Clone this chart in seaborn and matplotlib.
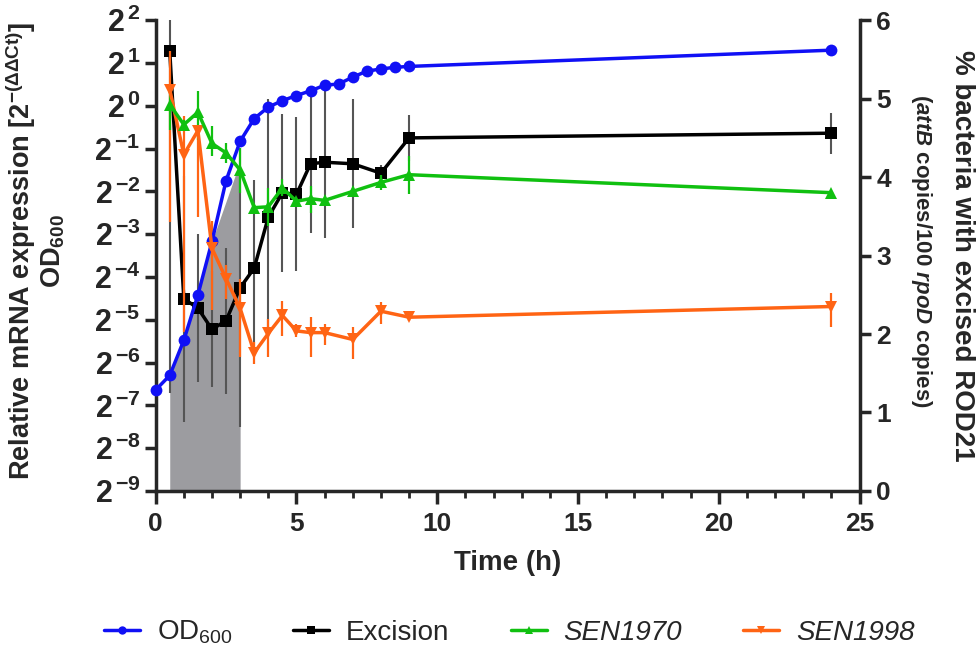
import numpy as np
import pandas as pd
import matplotlib
matplotlib.use('Agg')
import matplotlib.pyplot as plt
from matplotlib.ticker import FuncFormatter, MultipleLocator
from matplotlib.lines import Line2D
import seaborn as sns

# time points (h)
t_od = [0, 0.5, 1, 1.5, 2, 2.5, 3, 3.5, 4, 4.5, 5, 5.5, 6, 6.5, 7, 7.5, 8, 8.5, 9, 24]
t_gene = [0.5, 1, 1.5, 2, 2.5, 3, 3.5, 4, 4.5, 5, 5.5, 6, 7, 8, 9, 24]

# OD600, log2 values (left axis)
od600 = [-6.64, -6.30, -5.48, -4.42, -3.17, -1.75, -0.83, -0.30, -0.03, 0.12,
         0.24, 0.35, 0.48, 0.51, 0.67, 0.81, 0.86, 0.90, 0.92, 1.30]

# excision, % bacteria (right axis)
excision = [5.61, 2.45, 2.33, 2.06, 2.17, 2.59, 2.84, 3.49, 3.80, 3.78,
            4.17, 4.19, 4.17, 4.05, 4.50, 4.56]
excision_err = [4.36, 1.57, 0.94, 0.74, 0.93, 1.78, 1.12, 1.50, 1.01, 0.98,
                0.88, 0.97, 0.82, 0.10, 0.29, 0.26]

# SEN1970, log2 relative expression
sen1970 = [0.03, -0.44, -0.15, -0.88, -1.10, -1.50, -2.38, -2.36, -1.92, -2.23,
           -2.17, -2.21, -2.00, -1.79, -1.61, -2.03]
sen1970_lo = [0.59, 0.10, 0.64, 0.30, 0.23, 0.53, 0.05, 0.46, 0.19, 0.08,
              0.33, 0.08, 0.08, 0.17, 0.46, 0.05]
sen1970_hi = [0.39, 0.10, 0.49, 0.40, 0.22, 0.52, 0.05, 0.45, 0.20, 0.08,
              0.29, 0.08, 0.08, 0.17, 0.43, 0.05]

# SEN1998, log2 relative expression
sen1998 = [0.38, -1.14, -0.58, -3.33, -4.04, -4.73, -5.77, -5.32, -4.90, -5.26,
           -5.30, -5.30, -5.46, -4.80, -4.94, -4.69]
sen1998_lo = [3.10, 4.15, 2.03, 1.43, 0.48, 1.15, 0.27, 0.56, 0.49, 0.15,
              0.58, 0.30, 0.46, 0.30, 0.08, 0.49]
sen1998_hi = [0.89, 0.90, 0.10, 0.63, 0.33, 0.68, 0.24, 0.33, 0.34, 0.15,
              0.37, 0.20, 0.28, 0.21, 0.08, 0.32]

# shaded window
shade_t = [0.5, 1, 1.5, 2, 3]
shade_top = [-6.30, -5.48, -4.42, -3.17, -1.30]

blue = '#1010f5'
green = '#10c010'
orange = '#ff6414'

sns.set_style('ticks')
plt.rcParams['font.family'] = ['Liberation Sans', 'DejaVu Sans']
plt.rcParams['mathtext.fontset'] = 'custom'
plt.rcParams['mathtext.rm'] = 'Liberation Sans'
plt.rcParams['mathtext.bf'] = 'Liberation Sans:bold'
plt.rcParams['mathtext.it'] = 'Liberation Sans:italic'
plt.rcParams['mathtext.bfit'] = 'Liberation Sans:italic:bold'

fig = plt.figure(figsize=(9.79, 6.52), dpi=100)
ax = fig.add_axes([0.159, 0.247, 0.719, 0.722])
ax2 = ax.twinx()
ax.set_zorder(2)
ax.patch.set_visible(False)
ax2.set_zorder(1)

# shade + excision on the right axis (below the coloured lines)
ax2.fill_between(shade_t, shade_top, -9, color='#9c9ca0', lw=0,
                 transform=ax.transData, zorder=0)
ax2.errorbar(t_gene, excision, yerr=excision_err, fmt='none', ecolor='#555555',
             elinewidth=1.5, capsize=0, zorder=1)
sns.lineplot(x=t_gene, y=excision, ax=ax2, color='black', lw=2.5, marker='s',
             markersize=8, markeredgewidth=0, zorder=2)

ax.errorbar(t_gene, sen1998, yerr=[sen1998_lo, sen1998_hi], fmt='none',
            ecolor=orange, elinewidth=1.6, capsize=0, zorder=1)
ax.errorbar(t_gene, sen1970, yerr=[sen1970_lo, sen1970_hi], fmt='none',
            ecolor=green, elinewidth=1.6, capsize=0, zorder=1)
sns.lineplot(x=t_od, y=od600, ax=ax, color=blue, lw=2.5, marker='o',
             markersize=8.5, markeredgewidth=0, zorder=3, clip_on=False)
sns.lineplot(x=t_gene, y=sen1998, ax=ax, color=orange, lw=2.5, marker='v',
             markersize=9, markeredgewidth=0, zorder=3)
sns.lineplot(x=t_gene, y=sen1970, ax=ax, color=green, lw=2.5, marker='^',
             markersize=9, markeredgewidth=0, zorder=4)

ax.set_xlim(0, 25)
ax.set_ylim(-9, 2)
ax2.set_ylim(0, 6)
ax.set_yticks(range(-9, 3))
ax.yaxis.set_major_formatter(FuncFormatter(lambda v, p: r'$\mathbf{2}^{\,\mathbf{%d}}$' % v))
ax2.set_yticks(range(0, 7))
ax.xaxis.set_major_locator(MultipleLocator(5))
ax.xaxis.set_minor_locator(MultipleLocator(1))

for a in (ax, ax2):
    for s in a.spines.values():
        s.set_linewidth(2.5)
    a.spines['top'].set_visible(False)
ax.spines['right'].set_visible(False)
ax2.spines['left'].set_visible(False)
ax2.spines['bottom'].set_visible(False)

ax.tick_params(axis='y', length=8, width=2.5, labelsize=22, pad=3)
ax.tick_params(axis='x', which='major', length=9, width=2.5, labelsize=19, pad=6)
ax.tick_params(axis='x', which='minor', length=5, width=2.0)
ax2.tick_params(axis='y', length=8, width=2.5, labelsize=19, pad=4)
for lab in ax.get_xticklabels() + ax2.get_yticklabels():
    lab.set_fontweight('bold')

ax.set_xlabel('Time (h)', fontsize=20, fontweight='bold', labelpad=10)
ax.set_ylabel('Relative mRNA expression [2$^{\\mathregular{-(\\Delta\\Delta Ct)}}$]\nOD$_{\\mathbf{600}}$',
              fontsize=19.5, fontweight='bold', linespacing=1.05)
ax.yaxis.set_label_coords(-0.126, 0.51)
ax2.set_ylabel('')
ax2.text(1.145, 0.50, '% bacteria with excised ROD21', transform=ax2.transAxes,
         rotation=270, ha='center', va='center', fontsize=20, fontweight='bold')
ax2.text(1.088, 0.51, r'($\mathbfit{attB}$ copies/100 $\mathbfit{rpoD}$ copies)',
         transform=ax2.transAxes, rotation=270, ha='center', va='center',
         fontsize=16, fontweight='bold')

handles = [
    Line2D([], [], color=blue, lw=2.5, marker='o', markersize=6, markeredgewidth=0),
    Line2D([], [], color='black', lw=2.5, marker='s', markersize=6, markeredgewidth=0),
    Line2D([], [], color=green, lw=2.5, marker='^', markersize=6, markeredgewidth=0),
    Line2D([], [], color=orange, lw=2.5, marker='v', markersize=6, markeredgewidth=0),
]
labels = ['OD$_{\\mathregular{600}}$', 'Excision', 'SEN1970', 'SEN1998']
leg = fig.legend(handles, labels, loc='center', bbox_to_anchor=(0.52, 0.03), ncol=4,
                 frameon=False, handlelength=1.3, columnspacing=2.2,
                 handletextpad=0.6, prop={'size': 20})
leg.get_texts()[2].set_style('italic')
leg.get_texts()[3].set_style('italic')

fig.savefig('out.png', dpi=100)
